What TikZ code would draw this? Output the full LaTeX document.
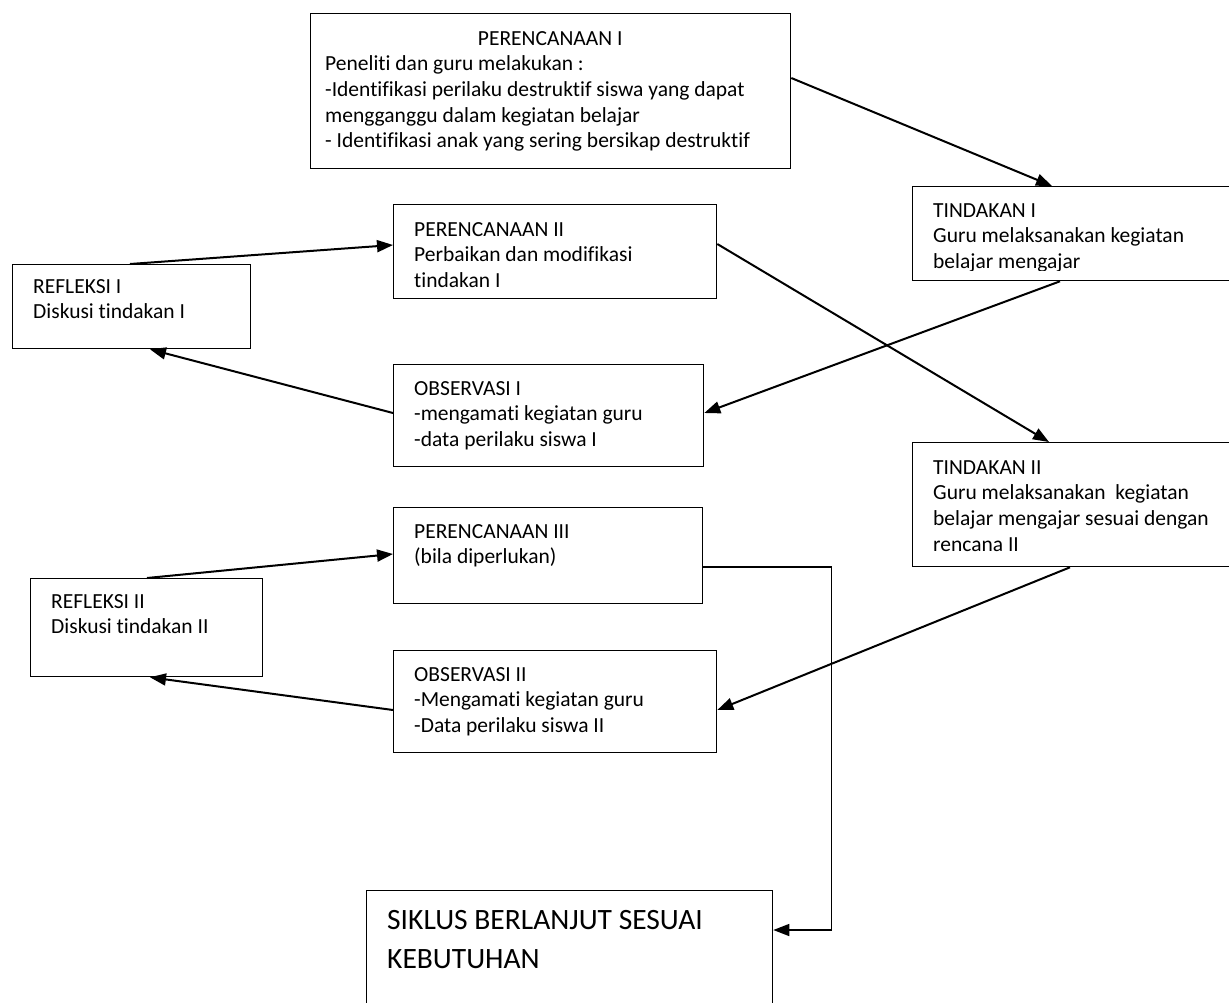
\documentclass[tikz,border=0pt]{standalone}
\usepackage{fontspec}
\setmainfont{Carlito}[Ligatures=NoCommon]
\usetikzlibrary{arrows.meta}
\newcommand\teks{\fontsize{21.5}{25.6}\selectfont}
\newcommand\teksbesar{\fontsize{29.5}{39}\selectfont}
\newcommand\atas{\rule{0pt}{20pt}}
\tikzset{
  kotak/.style={draw,line width=1.3pt,anchor=north west,inner sep=0pt},
  isi/.style={anchor=north west,align=left,inner sep=0pt,font=\teks},
  panah/.style={line width=2pt,-{Triangle[length=16pt,width=12pt]}},
  garis/.style={line width=1.5pt,-{Triangle[length=16pt,width=12pt]}}
}
\begin{document}
\begin{tikzpicture}[x=1pt,y=-1pt]
\clip (0,0) rectangle (1229,1002);
% kotak-kotak
\node[kotak,minimum width=480pt,minimum height=155pt] (pren1) at (310,13) {};
\node[kotak,minimum width=330pt,minimum height=94pt] (tind1) at (912,186) {};
\node[kotak,minimum width=323pt,minimum height=94pt] (pren2) at (393,204) {};
\node[kotak,minimum width=238pt,minimum height=84pt] (ref1) at (12,264) {};
\node[kotak,minimum width=310pt,minimum height=102pt] (obs1) at (393,364) {};
\node[kotak,minimum width=330pt,minimum height=124pt] (tind2) at (912,442) {};
\node[kotak,minimum width=309pt,minimum height=96pt] (pren3) at (393,507) {};
\node[kotak,minimum width=232pt,minimum height=98pt] (ref2) at (30,578) {};
\node[kotak,minimum width=323pt,minimum height=102pt] (obs2) at (393,650) {};
\node[kotak,minimum width=406pt,minimum height=130pt] (siklus) at (366,890) {};
% isi kotak
\node[isi] (tpren1) at ([shift={(15pt,-12pt)}]pren1.north west)
  {\makebox[450pt]{\atas PERENCANAAN I}\\
   Peneliti dan guru melakukan :\\
   -Identifikasi perilaku destruktif siswa yang dapat\\
   mengganggu dalam kegiatan belajar\\
   - Identifikasi anak yang sering bersikap destruktif};
\begin{scope}
\clip (tind1.north west) rectangle ([yshift=11pt]tind1.south east);
\node[isi] (ttind1) at ([shift={(21pt,-11pt)}]tind1.north west)
  {\atas TINDAKAN I\\ Guru melaksanakan kegiatan\\ belajar mengajar};
\end{scope}
\node[isi] (tpren2) at ([shift={(21pt,-12pt)}]pren2.north west)
  {\atas PERENCANAAN II\\ Perbaikan dan modifikasi\\ tindakan I};
\node[isi] (tref1) at ([shift={(21pt,-9pt)}]ref1.north west)
  {\atas REFLEKSI I\\ Diskusi tindakan I};
\node[isi] (tobs1) at ([shift={(21pt,-11pt)}]obs1.north west)
  {\atas OBSERVASI I\\ -mengamati kegiatan guru\\ -data perilaku siswa I};
\node[isi] (ttind2) at ([shift={(21pt,-12pt)}]tind2.north west)
  {\atas TINDAKAN II\\ Guru melaksanakan\ \ kegiatan\\ belajar mengajar sesuai dengan\\ rencana II};
\node[isi] (tpren3) at ([shift={(21pt,-11pt)}]pren3.north west)
  {\atas PERENCANAAN III\\ (bila diperlukan)};
\node[isi] (tref2) at ([shift={(21pt,-10pt)}]ref2.north west)
  {\atas REFLEKSI II\\ Diskusi tindakan II};
\node[isi] (tobs2) at ([shift={(21pt,-11pt)}]obs2.north west)
  {\atas OBSERVASI II\\ -Mengamati kegiatan guru\\ -Data perilaku siswa II};
\node[isi,font=\teksbesar] (tsiklus) at ([shift={(21pt,-9pt)}]siklus.north west)
  {\rule{0pt}{30pt}SIKLUS BERLANJUT SESUAI\\ KEBUTUHAN};
% panah siklus I
\draw[panah] ([yshift=-65pt]pren1.north east) -- ([xshift=140pt]tind1.north west);
\draw[panah] ([xshift=148pt]tind1.south west) -- ([yshift=-49pt]obs1.north east);
\draw[panah] ([yshift=-49pt]obs1.north west) -- ([xshift=138pt]ref1.south west);
\draw[panah] ([xshift=118pt]ref1.north west) -- ([yshift=-41pt]pren2.north west);
% panah siklus II
\draw[panah] ([yshift=-40pt]pren2.north east) -- ([xshift=137pt]tind2.north west);
\draw[panah] ([xshift=158pt]tind2.south west) -- ([yshift=-60pt]obs2.north east);
\draw[panah] ([yshift=-60pt]obs2.north west) -- ([xshift=120pt]ref2.south west);
\draw[panah] ([xshift=117pt]ref2.north west) -- ([yshift=-47pt]pren3.north west);
% lanjut
\draw[garis] ([yshift=-60pt]pren3.north east) -| ([shift={(58pt,-40pt)}]siklus.north east)
  -- ([yshift=-40pt]siklus.north east);
\end{tikzpicture}
\end{document}
